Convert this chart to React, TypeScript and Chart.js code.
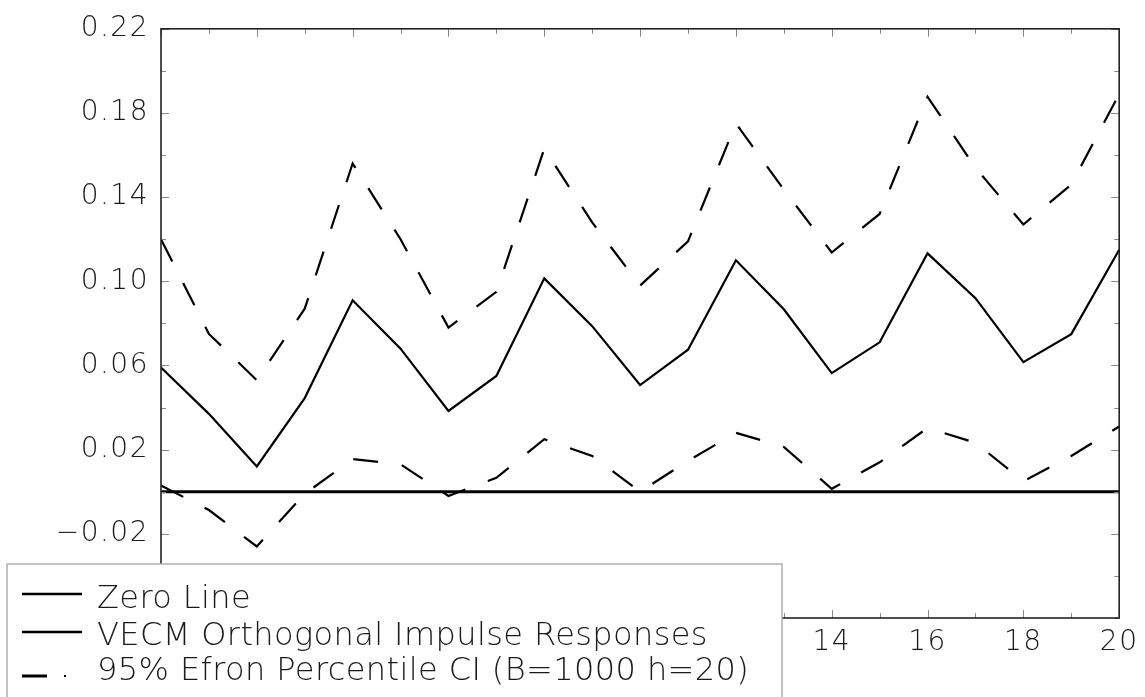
import React, { useEffect, useRef } from "react";
import { Chart, registerables } from "chart.js";

Chart.register(...registerables);

// ---- data ----
const horizons = [0, 1, 2, 3, 4, 5, 6, 7, 8, 9, 10, 11, 12, 13, 14, 15, 16, 17, 18, 19, 20];
const zeroLine = [0, 0, 0, 0, 0, 0, 0, 0, 0, 0, 0, 0, 0, 0, 0, 0, 0, 0, 0, 0, 0];
const impulse = [0.059, 0.037, 0.012, 0.0445, 0.091, 0.068, 0.0384, 0.055, 0.1014, 0.0787, 0.0507, 0.0675, 0.11, 0.0867, 0.0564, 0.071, 0.1133, 0.092, 0.0616, 0.0749, 0.115];
const upperCI = [0.12, 0.075, 0.053, 0.087, 0.156, 0.12, 0.078, 0.095, 0.163, 0.128, 0.098, 0.119, 0.175, 0.1436, 0.1137, 0.132, 0.1877, 0.154, 0.127, 0.146, 0.189];
const lowerCI = [0.003, -0.0087, -0.026, -0.001, 0.0155, 0.013, -0.002, 0.0066, 0.025, 0.017, 0.0, 0.0147, 0.028, 0.0213, 0.0014, 0.014, 0.0303, 0.0233, 0.005, 0.017, 0.031];

const xTickLabels = [0, 2, 4, 6, 8, 10, 12, 14, 16, 18, 20];
const yTickLabels = [-0.02, 0.02, 0.06, 0.1, 0.14, 0.18, 0.22];
const yTickMarks = [-0.06, -0.04, -0.02, 0, 0.02, 0.04, 0.06, 0.08, 0.1, 0.12, 0.14, 0.16, 0.18, 0.2, 0.22];

const legendLabels = [
  "Zero Line",
  "VECM Orthogonal Impulse Responses",
  "95% Efron Percentile CI (B=1000 h=20)",
];

const FONT = '"DejaVu Sans", sans-serif';

const toXY = (ys: number[]) => horizons.map((h, i) => ({ x: h, y: ys[i] }));

const fmtY = (v: number) => {
  const s = Math.abs(v).toFixed(2);
  return v < -1e-9 ? "\u2212" + s : s;
};

const spacingPlugin = {
  id: "spacing",
  beforeDraw(chart: any) {
    (chart.ctx as any).letterSpacing = "1.5px";
  },
};

const framePlugin = {
  id: "frame",
  afterDraw(chart: any) {
    const ctx = chart.ctx as CanvasRenderingContext2D;
    const { left, right, top, bottom } = chart.chartArea;
    const xs = chart.scales.x;
    const ys = chart.scales.y;
    ctx.save();
    // inward tick marks
    ctx.strokeStyle = "#8a8a8a";
    ctx.lineWidth = 1;
    ctx.beginPath();
    horizons.forEach((h) => {
      const px = Math.round(xs.getPixelForValue(h)) + 0.5;
      const len = h % 2 === 0 ? 8 : 5;
      ctx.moveTo(px, bottom);
      ctx.lineTo(px, bottom - len);
      ctx.moveTo(px, top);
      ctx.lineTo(px, top + len);
    });
    yTickMarks.forEach((v) => {
      const py = Math.round(ys.getPixelForValue(v)) + 0.5;
      const major = yTickLabels.some((t) => Math.abs(t - v) < 1e-9);
      const len = major ? 8 : 5;
      ctx.moveTo(left, py);
      ctx.lineTo(left + len, py);
      ctx.moveTo(right, py);
      ctx.lineTo(right - len, py);
    });
    ctx.stroke();
    // frame
    ctx.strokeStyle = "#222";
    ctx.lineWidth = 1.6;
    ctx.strokeRect(left, top, right - left, bottom - top);

    // legend box
    const bx = 7;
    const by = 564;
    const bw = 782 - 7;
    ctx.fillStyle = "#fff";
    ctx.fillRect(bx, by, bw, 200);
    ctx.strokeStyle = "#b0b0b0";
    ctx.lineWidth = 1.5;
    ctx.strokeRect(bx, by, bw, 200);

    const rowsBase = [608, 645, 680];
    const sampleY = [594, 632, 676];
    ctx.strokeStyle = "#000";
    ctx.lineWidth = 2.5;
    // zero line sample
    ctx.beginPath();
    ctx.moveTo(22, sampleY[0]);
    ctx.lineTo(82, sampleY[0]);
    ctx.stroke();
    // impulse sample
    ctx.beginPath();
    ctx.moveTo(22, sampleY[1]);
    ctx.lineTo(82, sampleY[1]);
    ctx.stroke();
    // CI sample: dash + dot
    ctx.lineWidth = 3;
    ctx.beginPath();
    ctx.moveTo(22, sampleY[2]);
    ctx.lineTo(47, sampleY[2]);
    ctx.stroke();
    ctx.fillStyle = "#000";
    ctx.fillRect(64, sampleY[2] - 1, 2, 2);

    (ctx as any).letterSpacing = "0.4px";
    ctx.font = `200 32px ${FONT}`;
    ctx.fillStyle = "#1a1a1a";
    ctx.textAlign = "left";
    ctx.textBaseline = "alphabetic";
    legendLabels.forEach((t, i) => {
      ctx.fillText(t, 97, rowsBase[i]);
    });
    ctx.restore();
  },
};

export default function App() {
  const ref = useRef<HTMLCanvasElement>(null);
  useEffect(() => {
    if (!ref.current) return;
    const chart = new Chart(ref.current, {
      type: "line",
      data: {
        datasets: [
          {
            label: legendLabels[0],
            data: toXY(zeroLine),
            borderColor: "#000",
            borderWidth: 3,
            pointRadius: 0,
            tension: 0,
            fill: false,
          },
          {
            label: legendLabels[1],
            data: toXY(impulse),
            borderColor: "#000",
            borderWidth: 2.2,
            pointRadius: 0,
            tension: 0,
            fill: false,
          },
          {
            label: legendLabels[2],
            data: toXY(upperCI),
            borderColor: "#000",
            borderWidth: 2.2,
            borderDash: [25, 24],
            pointRadius: 0,
            tension: 0,
            fill: false,
          },
          {
            label: legendLabels[2] + " lower",
            data: toXY(lowerCI),
            borderColor: "#000",
            borderWidth: 2.2,
            borderDash: [25, 24],
            pointRadius: 0,
            tension: 0,
            fill: false,
          },
        ],
      },
      options: {
        responsive: false,
        animation: false,
        events: [],
        layout: { padding: { left: 0, right: 24, top: 25, bottom: 0 } },
        plugins: {
          legend: { display: false },
          tooltip: { enabled: false },
          title: { display: false },
        },
        scales: {
          x: {
            type: "linear",
            min: 0,
            max: 20,
            grid: { display: false, drawTicks: false },
            border: { display: false },
            afterBuildTicks: (s: any) => {
              s.ticks = xTickLabels.map((v) => ({ value: v }));
            },
            afterFit: (s: any) => {
              s.height = 79;
            },
            ticks: {
              padding: 8,
              autoSkip: false,
              maxRotation: 0,
              color: "#1a1a1a",
              font: { family: FONT, size: 28, weight: "200" },
              callback: (v: any) => String(v),
            },
          },
          y: {
            type: "linear",
            min: -0.06,
            max: 0.22,
            grid: { display: false, drawTicks: false },
            border: { display: false },
            afterBuildTicks: (s: any) => {
              s.ticks = yTickLabels.map((v) => ({ value: v }));
            },
            afterFit: (s: any) => {
              s.width = 161;
            },
            ticks: {
              padding: 12,
              color: "#1a1a1a",
              font: { family: FONT, size: 28, weight: "200" },
              callback: (v: any) => fmtY(Number(v)),
            },
          },
        },
      },
      plugins: [spacingPlugin, framePlugin],
    } as any);
    return () => chart.destroy();
  }, []);
  return (
    <div
      style={{
        position: "fixed",
        left: 0,
        top: 0,
        width: 1145,
        height: 697,
        background: "#fff",
        overflow: "hidden",
      }}
    >
      <canvas ref={ref} width={1145} height={697} style={{ display: "block" }} />
    </div>
  );
}
